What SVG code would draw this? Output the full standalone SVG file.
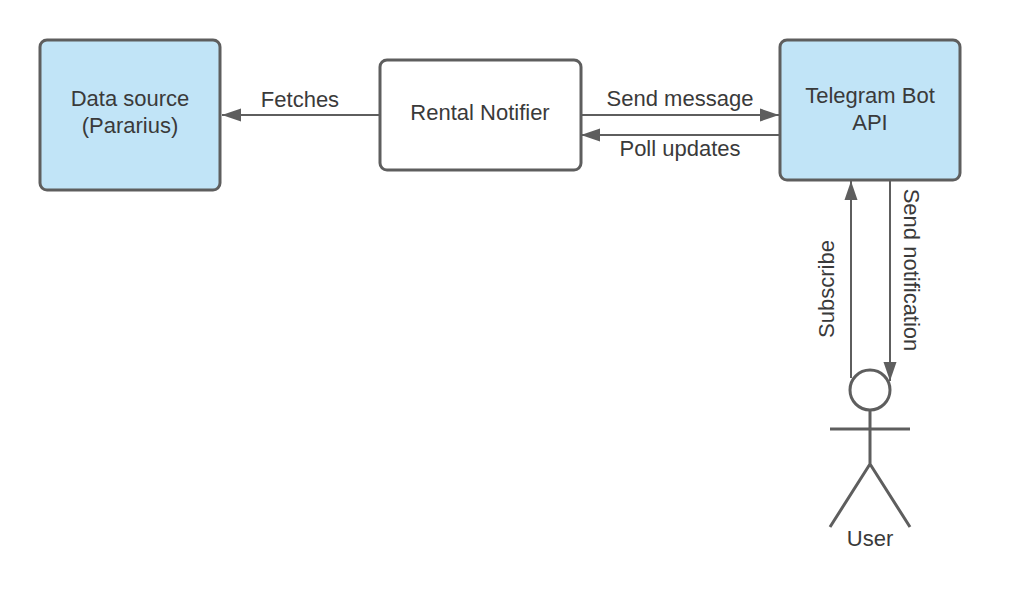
<svg xmlns="http://www.w3.org/2000/svg" width="1030" height="590" viewBox="0 0 1030 590">
<defs><marker id="a" markerUnits="userSpaceOnUse" markerWidth="20" markerHeight="16" refX="19" refY="8" orient="auto"><path d="M0 1.500L19 8L0 14.500Z" fill="#5e5e5e"/></marker></defs>
<style>
text{font-family:"Liberation Sans",Arial,sans-serif;font-size:22px;fill:#3a3a3a;text-anchor:middle}
.b{fill:#c1e4f7;stroke:#5e5e5e;stroke-width:3}
.w{fill:#fff;stroke:#5e5e5e;stroke-width:3}
.c{fill:none;stroke:#5e5e5e;stroke-width:2;marker-end:url(#a)}
.u{fill:none;stroke:#5e5e5e;stroke-width:3}
</style>
<rect width="1030" height="590" fill="#fff"/>
<g id="connectors">
<path class="c" d="M380 115H222"/>
<path class="c" d="M581 115H779"/>
<path class="c" d="M779 135H581"/>
<path class="c" d="M851 378V181"/>
<path class="c" d="M890 181V381"/>
<text x="300" y="106.700">Fetches</text>
<text x="680" y="105.700">Send message</text>
<text x="680" y="155.700">Poll updates</text>
<text transform="translate(834 289) rotate(-90)">Subscribe</text>
<text transform="translate(904 270) rotate(90)">Send notification</text>
</g>
<g id="data-source"><rect class="b" x="40" y="40" width="180" height="150" rx="7"/><text x="130" y="105.500">Data source</text><text x="130" y="132.500">(Pararius)</text></g>
<g id="rental-notifier"><rect class="w" x="380" y="60" width="201" height="110" rx="7"/><text x="480" y="119.700">Rental Notifier</text></g>
<g id="telegram-bot-api"><rect class="b" x="780" y="40" width="180" height="140" rx="7"/><text x="870" y="102.500">Telegram Bot</text><text x="870" y="129.500">API</text></g>
<g id="user"><circle class="u" cx="870" cy="390" r="20"/><path class="u" d="M870 410V464M830 429H910M870 464L830 527M870 464L910 527"/><text x="870" y="545.700">User</text></g>
</svg>
